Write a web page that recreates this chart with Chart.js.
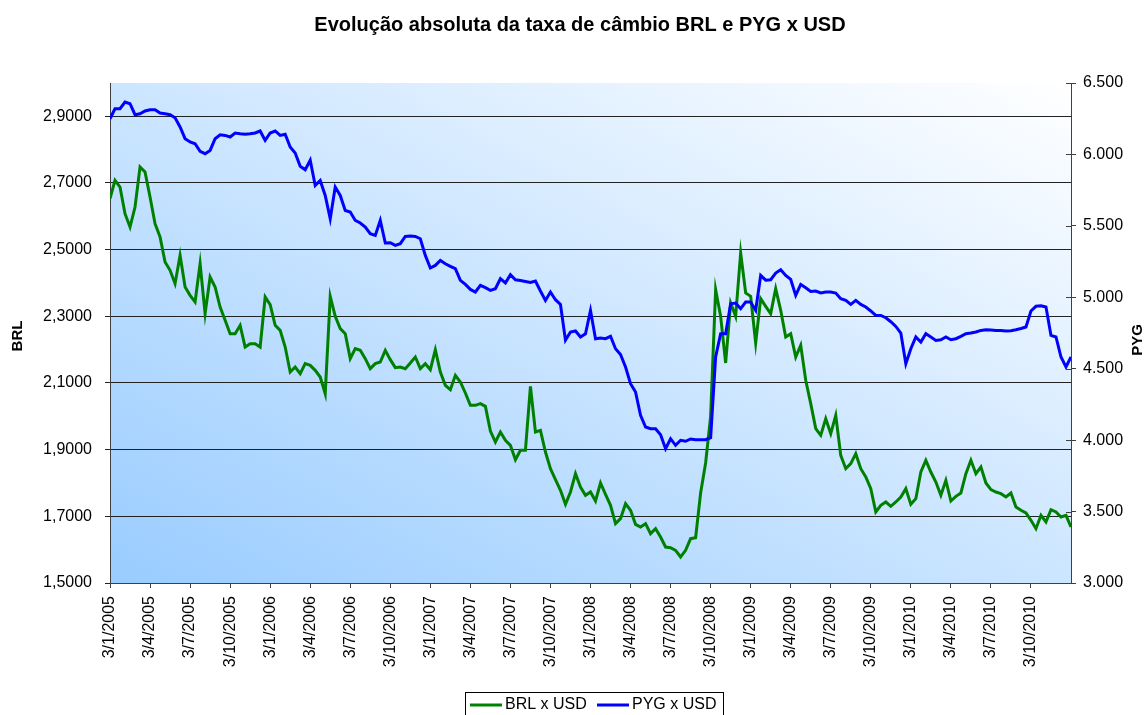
<!DOCTYPE html>
<html><head><meta charset="utf-8">
<script src="https://cdn.jsdelivr.net/npm/chart.js@4/dist/chart.umd.min.js"></script>
<style>html,body{margin:0;padding:0;background:#fff;}</style>
</head><body>
<canvas id="c" width="1146" height="715"></canvas>
<script>
const chartTitle = 'Evolução absoluta da taxa de câmbio BRL e PYG x USD';
const seriesNames = ['BRL x USD', 'PYG x USD'];
const quarterLabels = ['3/1/2005','3/4/2005','3/7/2005','3/10/2005','3/1/2006','3/4/2006','3/7/2006','3/10/2006',
  '3/1/2007','3/4/2007','3/7/2007','3/10/2007','3/1/2008','3/4/2008','3/7/2008','3/10/2008',
  '3/1/2009','3/4/2009','3/7/2009','3/10/2009','3/1/2010','3/4/2010','3/7/2010','3/10/2010'];
const pointsPerQuarter = 8;
const brlTicks = [1.5, 1.7, 1.9, 2.1, 2.3, 2.5, 2.7, 2.9];
const pygTicks = [3000, 3500, 4000, 4500, 5000, 5500, 6000, 6500];

const brlUsd = [
 2.653,2.708,2.688,2.608,2.568,2.628,2.748,2.733,2.658,2.578,2.538,2.463,2.438,2.398,2.483,2.388,
 2.363,2.343,2.458,2.308,2.418,2.388,2.328,2.288,2.248,2.248,2.273,2.208,2.218,2.218,2.208,2.358,
 2.335,2.273,2.258,2.208,2.133,2.148,2.128,2.158,2.153,2.138,2.118,2.068,2.360,2.300,2.263,2.248,
 2.173,2.203,2.198,2.173,2.143,2.158,2.163,2.198,2.170,2.146,2.148,2.143,2.160,2.178,2.143,2.158,
 2.140,2.200,2.133,2.093,2.080,2.123,2.103,2.070,2.033,2.033,2.038,2.030,1.956,1.923,1.953,1.928,
 1.913,1.870,1.898,1.898,2.090,1.953,1.958,1.893,1.843,1.810,1.778,1.736,1.773,1.828,1.788,1.763,
 1.773,1.746,1.800,1.766,1.733,1.678,1.693,1.738,1.718,1.676,1.668,1.678,1.648,1.663,1.638,1.608,
 1.606,1.598,1.578,1.598,1.633,1.636,1.770,1.860,2.000,2.380,2.300,2.160,2.340,2.300,2.490,2.370,
 2.360,2.220,2.353,2.330,2.308,2.383,2.318,2.238,2.248,2.178,2.213,2.108,2.038,1.963,1.943,1.993,
 1.948,2.003,1.883,1.843,1.858,1.888,1.843,1.818,1.783,1.713,1.733,1.743,1.730,1.743,1.758,1.783,
 1.736,1.753,1.833,1.868,1.833,1.803,1.763,1.808,1.746,1.760,1.770,1.828,1.868,1.828,1.848,1.800,
 1.780,1.773,1.768,1.758,1.770,1.728,1.718,1.710,1.688,1.663,1.703,1.683,1.720,1.713,1.698,1.703,
 1.668
];
const pygUsd = [
 6250,6320,6320,6367,6355,6278,6285,6304,6313,6313,6290,6285,6278,6257,6192,6110,
 6087,6075,6021,6005,6028,6110,6138,6133,6122,6150,6145,6141,6145,6150,6164,6098,
 6150,6164,6133,6141,6052,6010,5917,5893,5959,5783,5818,5713,5550,5772,5713,5608,
 5597,5538,5520,5492,5445,5433,5538,5380,5382,5363,5375,5426,5429,5426,5410,5293,
 5205,5223,5258,5235,5216,5200,5118,5090,5055,5037,5083,5067,5048,5060,5130,5100,
 5158,5123,5118,5111,5104,5114,5044,4978,5037,4983,4950,4700,4757,4764,4722,4745,
 4908,4710,4715,4710,4727,4640,4600,4512,4395,4337,4174,4092,4080,4080,4038,3940,
 4010,3964,3999,3992,4008,4003,4003,4003,4017,4582,4745,4745,4955,4960,4920,4967,
 4967,4908,5153,5120,5123,5170,5193,5153,5125,5013,5090,5067,5041,5044,5030,5037,
 5037,5030,4990,4978,4950,4978,4950,4932,4904,4873,4873,4857,4829,4796,4750,4535,
 4640,4722,4687,4745,4722,4698,4703,4722,4703,4710,4726,4745,4750,4757,4768,4773,
 4771,4768,4768,4764,4766,4773,4782,4792,4904,4937,4941,4932,4733,4722,4582,4512,
 4582
];

const FONT = "'Liberation Sans', Arial, sans-serif";
const GREEN = '#008000', BLUE = '#0000FF';

const decorPlugin = {
  id: 'decor',
  beforeDraw(chart) {
    const {ctx, chartArea: a} = chart;
    const w = a.right - a.left, h = a.bottom - a.top;
    const cx = (a.left + a.right) / 2, cy = (a.top + a.bottom) / 2;
    const len = Math.hypot(w, h);
    const dx = h / len, dy = -w / len;
    const half = w * h / len;
    const g = ctx.createLinearGradient(cx - dx * half, cy - dy * half, cx + dx * half, cy + dy * half);
    g.addColorStop(0, '#99CCFF');
    g.addColorStop(1, '#FFFFFF');
    ctx.save();
    ctx.fillStyle = g;
    ctx.fillRect(a.left, a.top, w, h);
    ctx.restore();
  },
  afterDraw(chart) {
    const {ctx, chartArea: a} = chart;
    const y2 = chart.scales.y2;
    ctx.save();
    ctx.strokeStyle = '#404040';
    ctx.lineWidth = 1;
    y2.ticks.forEach(t => {
      const py = Math.round(y2.getPixelForValue(t.value)) + 0.5;
      ctx.beginPath(); ctx.moveTo(a.right - 5, py); ctx.lineTo(a.right, py); ctx.stroke();
    });
    ctx.fillStyle = '#000';
    ctx.font = 'bold 20px ' + FONT;
    ctx.textAlign = 'center';
    ctx.textBaseline = 'middle';
    ctx.fillText(chartTitle, 580, 25);
    ctx.font = 'bold 15px ' + FONT;
    ctx.save(); ctx.translate(18, 336); ctx.rotate(-Math.PI / 2); ctx.fillText('BRL', 0, 0); ctx.restore();
    ctx.save(); ctx.translate(1138, 340); ctx.rotate(-Math.PI / 2); ctx.fillText('PYG', 0, 0); ctx.restore();
    ctx.strokeStyle = '#000';
    ctx.lineWidth = 1;
    ctx.strokeRect(465.5, 692.5, 258, 30);
    ctx.font = '16px ' + FONT;
    ctx.textAlign = 'left';
    const ly = 705;
    const items = [[470, GREEN, seriesNames[0]], [597, BLUE, seriesNames[1]]];
    items.forEach(([x, col, label]) => {
      ctx.strokeStyle = col; ctx.lineWidth = 3;
      ctx.beginPath(); ctx.moveTo(x, ly); ctx.lineTo(x + 32, ly); ctx.stroke();
      ctx.fillStyle = '#000';
      ctx.fillText(label, x + 35, ly);
    });
    ctx.restore();
  }
};

new Chart(document.getElementById('c'), {
  type: 'line',
  data: {
    datasets: [
      { label: seriesNames[0], data: brlUsd.map((v, i) => ({x: i, y: v})), yAxisID: 'y',
        borderColor: GREEN, borderWidth: 3, pointRadius: 0, tension: 0, order: 1 },
      { label: seriesNames[1], data: pygUsd.map((v, i) => ({x: i, y: v})), yAxisID: 'y2',
        borderColor: BLUE, borderWidth: 3, pointRadius: 0, tension: 0, order: 0 }
    ]
  },
  options: {
    responsive: false,
    animation: false,
    devicePixelRatio: 1,
    layout: { padding: { top: 83, left: 0, right: 0, bottom: 0 } },
    plugins: { legend: { display: false }, title: { display: false }, tooltip: { enabled: false } },
    scales: {
      x: {
        type: 'linear', min: 0, max: quarterLabels.length * pointsPerQuarter,
        afterBuildTicks(s) { s.ticks = quarterLabels.map((_, k) => ({ value: k * pointsPerQuarter })); },
        afterFit(s) { s.height = 132; },
        ticks: { autoSkip: false, minRotation: 90, maxRotation: 90, padding: 8, color: '#000',
          font: { family: FONT, size: 16 },
          callback: v => quarterLabels[Math.round(v / pointsPerQuarter)] },
        grid: { drawOnChartArea: false, drawTicks: true, tickLength: 5, color: '#404040' },
        border: { color: '#404040', width: 1 }
      },
      y: {
        position: 'left', min: 1.5, max: 3.0,
        afterBuildTicks(s) { s.ticks = brlTicks.map(v => ({ value: v })); },
        afterFit(s) { s.width = 110; },
        ticks: { padding: 13, color: '#000', font: { family: FONT, size: 16 },
          callback: v => v.toFixed(4).replace('.', ',') },
        grid: { color: '#222', tickLength: 5, drawTicks: true },
        border: { color: '#404040', width: 1 }
      },
      y2: {
        position: 'right', min: 3000, max: 6500,
        afterBuildTicks(s) { s.ticks = pygTicks.map(v => ({ value: v })); },
        afterFit(s) { s.width = 75; },
        ticks: { padding: 7, color: '#000', font: { family: FONT, size: 16 },
          callback: v => (v / 1000).toFixed(3) },
        grid: { drawOnChartArea: false, tickLength: 5, drawTicks: true, color: '#404040' },
        border: { color: '#404040', width: 1 }
      }
    }
  },
  plugins: [decorPlugin]
});
</script>
</body></html>
